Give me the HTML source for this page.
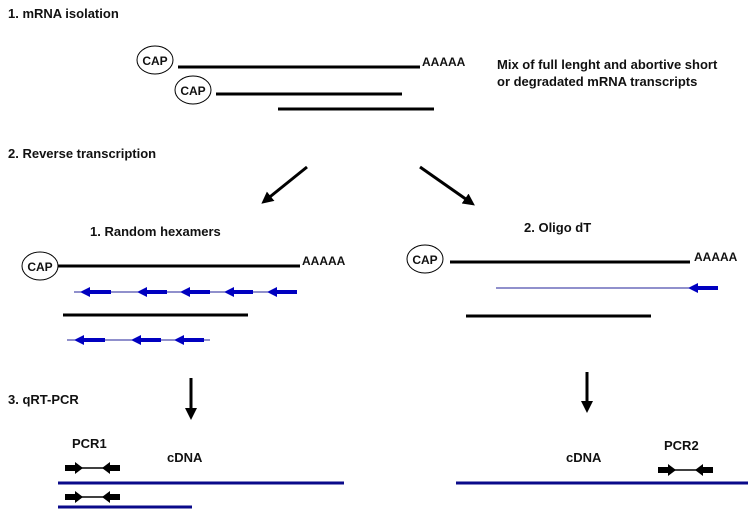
<!DOCTYPE html>
<html><head><style>body{margin:0;background:#fff}svg{display:block}text{font-family:"Liberation Sans",sans-serif;font-weight:bold;fill:#111}</style></head>
<body>
<svg width="754" height="517" viewBox="0 0 754 517">
<defs>
<marker id="bk" markerWidth="4" markerHeight="4" refX="2" refY="2" orient="auto" markerUnits="strokeWidth"><path d="M0,0L4,2L0,4z" fill="#000"/></marker>
</defs>
<text x="8" y="18" font-size="13">1. mRNA isolation</text>
<text x="8" y="158" font-size="13">2. Reverse transcription</text>
<text x="8" y="404" font-size="13">3. qRT-PCR</text>
<text x="497" y="69" font-size="13">Mix of full lenght and abortive short</text>
<text x="497" y="86" font-size="13">or degradated mRNA transcripts</text>
<g stroke="#000" stroke-width="3">
<line x1="178" y1="67" x2="420" y2="67"/>
<line x1="216" y1="94" x2="402" y2="94"/>
<line x1="278" y1="109" x2="434" y2="109"/>
<line x1="58" y1="266" x2="300" y2="266"/>
<line x1="63" y1="315" x2="248" y2="315"/>
<line x1="450" y1="262" x2="690" y2="262"/>
<line x1="466" y1="316" x2="651" y2="316"/>
</g>
<g fill="#fff" stroke="#000" stroke-width="1">
<ellipse cx="155" cy="60" rx="18" ry="14"/>
<ellipse cx="193" cy="90" rx="18" ry="14"/>
<ellipse cx="40" cy="266" rx="18" ry="14"/>
<ellipse cx="425" cy="259" rx="18" ry="14"/>
</g>
<g font-size="12" text-anchor="middle">
<text x="155" y="65">CAP</text><text x="193" y="95">CAP</text>
<text x="40" y="271">CAP</text><text x="425" y="264">CAP</text>
</g>
<g font-size="12"><text x="422" y="66">AAAAA</text><text x="302" y="265">AAAAA</text><text x="694" y="261">AAAAA</text></g>
<text x="90" y="236" font-size="13">1. Random hexamers</text>
<text x="524" y="232" font-size="13">2. Oligo dT</text>
<g stroke="#000" stroke-width="3" marker-end="url(#bk)">
<line x1="307" y1="167" x2="266" y2="200"/>
<line x1="420" y1="167" x2="470" y2="202"/>
<line x1="191" y1="378" x2="191" y2="414"/>
<line x1="587" y1="372" x2="587" y2="407"/>
</g>
<g stroke="#22229a" stroke-width="1"><line x1="74" y1="292" x2="297" y2="292"/><line x1="67" y1="340" x2="210" y2="340"/><line x1="496" y1="288" x2="718" y2="288"/></g>
<g fill="#0000c0">
<path d="M80,292l10,-5v3h21v4h-21v3z"/><path d="M137,292l10,-5v3h20v4h-20v3z"/><path d="M180,292l10,-5v3h20v4h-20v3z"/><path d="M224,292l10,-5v3h19v4h-19v3z"/><path d="M267,292l10,-5v3h20v4h-20v3z"/>
<path d="M74,340l10,-5v3h21v4h-21v3z"/><path d="M131,340l10,-5v3h20v4h-20v3z"/><path d="M174,340l10,-5v3h20v4h-20v3z"/>
<path d="M688,288l10,-5v3h20v4h-20v3z"/>
</g>
<g stroke="#0a0a8a" stroke-width="3"><line x1="58" y1="483" x2="344" y2="483"/><line x1="58" y1="507" x2="192" y2="507"/><line x1="456" y1="483" x2="748" y2="483"/></g>
<text x="72" y="448" font-size="13">PCR1</text><text x="167" y="462" font-size="13">cDNA</text>
<text x="566" y="462" font-size="13">cDNA</text><text x="664" y="450" font-size="13">PCR2</text>
<g id="p"><line x1="65" y1="468" x2="120" y2="468" stroke="#000" stroke-width="1.5"/>
<path d="M65,465h10v-3l8,6l-8,6v-3h-10z M120,465h-10v-3l-8,6l8,6v-3h10z" fill="#000"/></g>
<use href="#p" transform="translate(0,29)"/>
<use href="#p" transform="translate(593,2)"/>
</svg>
</body></html>
